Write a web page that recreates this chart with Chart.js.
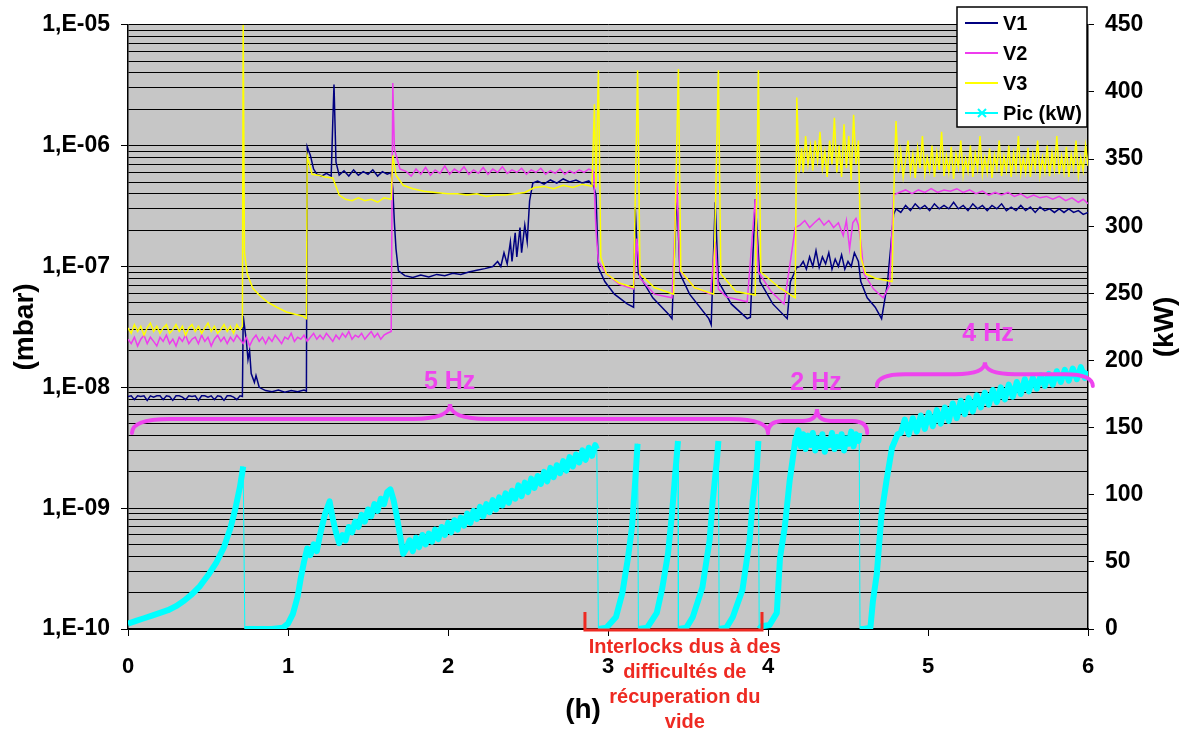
<!DOCTYPE html>
<html><head><meta charset="utf-8">
<script src="https://cdn.jsdelivr.net/npm/chart.js@4.4.1/dist/chart.umd.min.js"></script>
<style>html,body{margin:0;padding:0;background:#fff}canvas{display:block}</style>
</head><body>
<canvas id="c" width="1188" height="733"></canvas>
<script>
// ---- axis ticks / labels ----
const pressureDecades = [1e-10, 1e-9, 1e-8, 1e-7, 1e-6, 1e-5];
const pressureTickLabels = ['1,E-10', '1,E-09', '1,E-08', '1,E-07', '1,E-06', '1,E-05'];
const powerTickLabels = ['0', '50', '100', '150', '200', '250', '300', '350', '400', '450'];
const hourTickLabels = ['0', '1', '2', '3', '4', '5', '6'];
const seriesNames = ['V1', 'V2', 'V3', 'Pic (kW)'];
const frequencyLabels = ['5 Hz', '2 Hz', '4 Hz'];
const noteLines = ['Interlocks dus à des', 'difficultés de', 'récuperation du', 'vide'];

// ---- series: [time (h), pressure (mbar)] ----
const V1 = [[0,8.4e-9],[0.02,8.5e-9],[0.04,7.9e-9],[0.06,8.5e-9],[0.08,8.4e-9],[0.10,8.5e-9],[0.12,7.8e-9],[0.14,8.5e-9],[0.16,8.3e-9],[0.18,8.5e-9],[0.20,8.5e-9],[0.22,7.9e-9],[0.24,8.5e-9],[0.26,8.4e-9],[0.28,7.8e-9],[0.30,8.5e-9],[0.32,8.5e-9],[0.34,8.3e-9],[0.36,7.9e-9],[0.38,8.5e-9],[0.40,8.4e-9],[0.42,8.5e-9],[0.44,7.8e-9],[0.46,8.5e-9],[0.48,8.5e-9],[0.50,8.3e-9],[0.52,8.5e-9],[0.54,7.9e-9],[0.56,8.5e-9],[0.58,8.4e-9],[0.60,7.8e-9],[0.62,8.5e-9],[0.64,8.5e-9],[0.66,8.3e-9],[0.68,7.9e-9],[0.70,8.5e-9],[0.715,8.4e-9],
[0.72,3.9e-8],[0.74,2.4e-8],[0.75,1.7e-8],[0.76,2.0e-8],[0.77,1.3e-8],[0.79,1.1e-8],[0.80,1.25e-8],[0.82,1.0e-8],[0.86,9.4e-9],[0.90,9.2e-9],[0.94,9.5e-9],[0.98,9.1e-9],[1.02,9.4e-9],[1.06,9.2e-9],[1.10,9.5e-9],[1.115,9.3e-9],
[1.12,9.8e-7],[1.14,8.3e-7],[1.16,6.4e-7],[1.18,5.8e-7],[1.21,5.6e-7],[1.24,5.9e-7],[1.27,5.6e-7],[1.28,1.6e-6],[1.2875,3.2e-6],[1.30,7.3e-7],[1.32,5.7e-7],[1.35,6.2e-7],[1.38,5.6e-7],[1.41,6.3e-7],[1.44,5.7e-7],[1.47,6.1e-7],[1.50,5.8e-7],[1.53,6.3e-7],[1.56,5.6e-7],[1.59,6.1e-7],[1.62,5.8e-7],[1.645,6.0e-7],
[1.655,4.4e-7],[1.665,2.3e-7],[1.675,1.4e-7],[1.69,9.2e-8],[1.73,8.4e-8],[1.78,8.1e-8],[1.83,8.5e-8],[1.88,8.2e-8],[1.93,8.6e-8],[1.98,8.4e-8],[2.03,8.8e-8],[2.08,8.6e-8],[2.13,9.0e-8],[2.18,9.3e-8],[2.23,9.6e-8],[2.28,1.0e-7],[2.31,1.1e-7],[2.33,1.0e-7],[2.35,1.3e-7],[2.37,1.05e-7],[2.39,1.6e-7],[2.40,1.1e-7],[2.42,1.9e-7],[2.43,1.2e-7],[2.45,2.1e-7],[2.46,1.3e-7],[2.48,2.2e-7],[2.495,1.6e-7],[2.51,3.5e-7],[2.53,4.9e-7],[2.56,5.1e-7],[2.60,4.8e-7],[2.64,5.2e-7],[2.68,4.9e-7],[2.72,5.3e-7],[2.76,5.0e-7],[2.80,5.2e-7],[2.84,4.9e-7],[2.88,5.1e-7],[2.91,4.6e-7],[2.925,3.9e-7],
[2.94,9.8e-8],[2.98,7.5e-8],[3.04,5.9e-8],[3.12,4.9e-8],[3.16,4.6e-8],[3.17,3.1e-7],[3.19,8.7e-8],[3.28,5.5e-8],[3.38,4.0e-8],[3.40,3.7e-8],[3.43,4.1e-7],[3.45,8.7e-8],[3.51,5.9e-8],[3.63,3.7e-8],[3.645,3.3e-8],[3.67,3.4e-7],[3.69,7.5e-8],[3.77,4.9e-8],[3.87,3.7e-8],[3.89,3.8e-8],[3.92,3.6e-7],[3.95,7.5e-8],[4.03,4.9e-8],[4.12,3.7e-8],[4.14,7.5e-8],[4.18,9.8e-8],
[4.20,1.0e-7],[4.22,1.1e-7],[4.24,9.5e-8],[4.26,1.2e-7],[4.28,1.0e-7],[4.30,1.35e-7],[4.32,9.8e-8],[4.34,1.2e-7],[4.36,1.05e-7],[4.38,1.3e-7],[4.40,9.5e-8],[4.42,1.15e-7],[4.44,1.0e-7],[4.46,1.25e-7],[4.48,9.5e-8],[4.50,1.1e-7],[4.52,1.0e-7],[4.54,1.3e-7],[4.565,1.1e-7],[4.58,7.5e-8],[4.62,5.5e-8],[4.67,4.6e-8],[4.71,3.7e-8],[4.745,7.0e-8],[4.77,1.6e-7],[4.785,2.7e-7],[4.80,3.0e-7],
[4.83,2.8e-7],[4.86,3.2e-7],[4.89,2.9e-7],[4.92,3.3e-7],[4.95,3.0e-7],[4.98,3.2e-7],[5.01,2.9e-7],[5.04,3.3e-7],[5.07,3.0e-7],[5.10,3.2e-7],[5.13,3.0e-7],[5.16,3.4e-7],[5.19,3.0e-7],[5.22,3.2e-7],[5.25,2.9e-7],[5.28,3.3e-7],[5.31,3.0e-7],[5.34,3.2e-7],[5.37,2.9e-7],[5.40,3.2e-7],[5.43,3.0e-7],[5.46,3.3e-7],[5.49,2.9e-7],[5.52,3.1e-7],[5.55,2.9e-7],[5.58,3.2e-7],[5.61,2.9e-7],[5.64,3.1e-7],[5.67,2.8e-7],[5.70,3.1e-7],[5.73,2.9e-7],[5.76,3.0e-7],[5.79,2.8e-7],[5.82,3.0e-7],[5.85,2.8e-7],[5.88,3.0e-7],[5.91,2.8e-7],[5.94,2.9e-7],[5.97,2.7e-7],[6.00,2.8e-7]];

const V2 = [[0,2.5e-8],[0.02,2.3e-8],[0.04,2.6e-8],[0.06,2.2e-8],[0.08,2.5e-8],[0.10,2.7e-8],[0.12,2.3e-8],[0.14,2.6e-8],[0.16,2.4e-8],[0.18,2.2e-8],[0.20,2.6e-8],[0.22,2.4e-8],[0.24,2.7e-8],[0.26,2.3e-8],[0.28,2.5e-8],[0.30,2.2e-8],[0.32,2.6e-8],[0.34,2.4e-8],[0.36,2.7e-8],[0.38,2.3e-8],[0.40,2.5e-8],[0.42,2.6e-8],[0.44,2.3e-8],[0.46,2.7e-8],[0.48,2.4e-8],[0.50,2.6e-8],[0.52,2.2e-8],[0.54,2.5e-8],[0.56,2.7e-8],[0.58,2.4e-8],[0.60,2.6e-8],[0.62,2.3e-8],[0.64,2.6e-8],[0.66,2.4e-8],[0.68,2.7e-8],[0.70,2.5e-8],[0.72,2.3e-8],[0.74,2.6e-8],[0.76,2.2e-8],[0.78,2.5e-8],[0.80,2.7e-8],[0.82,2.4e-8],[0.84,2.6e-8],[0.86,2.3e-8],[0.88,2.6e-8],[0.90,2.4e-8],[0.92,2.7e-8],[0.94,2.5e-8],[0.96,2.3e-8],[0.98,2.6e-8],[1.00,2.5e-8],[1.02,2.8e-8],[1.04,2.4e-8],[1.06,2.6e-8],[1.08,2.5e-8],[1.10,2.7e-8],[1.12,2.4e-8],[1.14,2.6e-8],[1.16,2.8e-8],[1.18,2.5e-8],[1.20,2.7e-8],[1.22,2.5e-8],[1.24,2.8e-8],[1.26,2.6e-8],[1.28,2.4e-8],[1.30,2.7e-8],[1.32,2.5e-8],[1.34,2.8e-8],[1.36,2.6e-8],[1.38,2.9e-8],[1.40,2.5e-8],[1.42,2.7e-8],[1.44,2.6e-8],[1.46,2.8e-8],[1.48,2.5e-8],[1.50,2.7e-8],[1.52,2.9e-8],[1.54,2.6e-8],[1.56,2.8e-8],[1.58,2.5e-8],[1.60,2.7e-8],[1.62,2.8e-8],[1.645,2.9e-8],
[1.655,3.3e-6],[1.665,9.4e-7],[1.70,6.4e-7],[1.74,6.1e-7],[1.77,5.6e-7],[1.80,6.4e-7],[1.83,5.8e-7],[1.86,6.6e-7],[1.89,5.7e-7],[1.92,6.3e-7],[1.95,5.9e-7],[1.98,6.8e-7],[2.01,5.8e-7],[2.04,6.4e-7],[2.07,6.0e-7],[2.10,6.7e-7],[2.13,5.8e-7],[2.16,6.3e-7],[2.19,5.9e-7],[2.22,6.6e-7],[2.25,5.8e-7],[2.28,6.4e-7],[2.31,6.0e-7],[2.34,6.7e-7],[2.37,5.9e-7],[2.40,6.3e-7],[2.43,6.0e-7],[2.46,6.5e-7],[2.49,5.8e-7],[2.52,6.3e-7],[2.55,6.0e-7],[2.58,6.5e-7],[2.61,5.8e-7],[2.64,6.2e-7],[2.67,5.9e-7],[2.70,6.4e-7],[2.73,5.8e-7],[2.76,6.2e-7],[2.79,5.9e-7],[2.82,6.3e-7],[2.85,6.0e-7],[2.88,6.4e-7],[2.91,6.1e-7],
[2.925,2.0e-7],[2.94,1.1e-7],[2.99,8.7e-8],[3.07,7.1e-8],[3.16,6.5e-8],[3.18,1.7e-7],[3.20,8.0e-8],[3.29,5.9e-8],[3.40,5.5e-8],[3.43,5.0e-7],[3.45,9.2e-8],[3.54,6.7e-8],[3.64,5.9e-8],[3.67,1.6e-7],[3.69,6.5e-8],[3.74,5.6e-8],[3.87,5.1e-8],[3.92,3.6e-7],[3.94,9.0e-8],[4.02,6.2e-8],[4.10,4.9e-8],[4.14,1.1e-7],[4.17,2.1e-7],
[4.20,2.2e-7],[4.23,2.4e-7],[4.26,2.1e-7],[4.29,2.3e-7],[4.32,2.5e-7],[4.35,2.2e-7],[4.38,2.4e-7],[4.41,2.1e-7],[4.44,2.3e-7],[4.47,1.8e-7],[4.49,2.4e-7],[4.51,1.4e-7],[4.53,2.3e-7],[4.55,2.5e-7],[4.565,2.2e-7],[4.58,1.6e-7],[4.60,8.7e-8],[4.66,6.5e-8],[4.72,5.5e-8],[4.76,7.0e-8],[4.785,3.9e-7],[4.82,4.1e-7],[4.86,4.3e-7],[4.90,4.0e-7],[4.94,4.3e-7],[4.98,4.1e-7],[5.02,4.4e-7],[5.06,4.1e-7],[5.10,4.3e-7],[5.14,4.2e-7],[5.18,4.4e-7],[5.22,4.1e-7],[5.26,4.3e-7],[5.30,4.0e-7],[5.34,4.2e-7],[5.38,3.9e-7],[5.42,4.1e-7],[5.46,3.9e-7],[5.50,4.1e-7],[5.54,3.8e-7],[5.58,4.0e-7],[5.62,3.7e-7],[5.66,3.9e-7],[5.70,3.7e-7],[5.74,3.8e-7],[5.78,3.6e-7],[5.82,3.8e-7],[5.86,3.5e-7],[5.90,3.7e-7],[5.94,3.4e-7],[5.97,3.6e-7],[6.00,3.3e-7]];

const V3 = [[0,3.1e-8],[0.02,2.8e-8],[0.04,3.3e-8],[0.06,2.9e-8],[0.08,3.2e-8],[0.10,2.7e-8],[0.12,3.1e-8],[0.14,3.4e-8],[0.16,2.9e-8],[0.18,3.2e-8],[0.20,2.8e-8],[0.22,3.1e-8],[0.24,3.3e-8],[0.26,2.8e-8],[0.28,3.0e-8],[0.30,3.3e-8],[0.32,2.9e-8],[0.34,3.2e-8],[0.36,2.7e-8],[0.38,3.1e-8],[0.40,3.3e-8],[0.42,2.9e-8],[0.44,3.2e-8],[0.46,2.8e-8],[0.48,3.1e-8],[0.50,3.4e-8],[0.52,2.9e-8],[0.54,3.2e-8],[0.56,2.8e-8],[0.58,3.0e-8],[0.60,3.3e-8],[0.62,2.9e-8],[0.64,3.2e-8],[0.66,2.8e-8],[0.68,3.3e-8],[0.70,3.0e-8],[0.715,3.2e-8],
[0.72,1.0e-5],[0.728,1.3e-7],[0.745,8.7e-8],[0.78,6.6e-8],[0.82,5.8e-8],[0.87,5.1e-8],[0.93,4.6e-8],[0.99,4.2e-8],[1.05,4.0e-8],[1.09,3.9e-8],[1.115,3.7e-8],
[1.12,8.3e-7],[1.15,5.8e-7],[1.19,5.7e-7],[1.23,5.5e-7],[1.28,5.4e-7],[1.32,3.9e-7],[1.36,3.6e-7],[1.40,3.5e-7],[1.44,3.7e-7],[1.48,3.5e-7],[1.52,3.6e-7],[1.56,3.4e-7],[1.60,3.7e-7],[1.645,3.6e-7],
[1.655,8.3e-7],[1.675,5.7e-7],[1.72,4.7e-7],[1.78,4.4e-7],[1.85,4.2e-7],[1.92,4.1e-7],[2.00,4.0e-7],[2.06,4.0e-7],[2.12,3.9e-7],[2.18,4.0e-7],[2.24,3.8e-7],[2.30,3.9e-7],[2.36,3.9e-7],[2.42,4.0e-7],[2.48,4.1e-7],[2.54,4.5e-7],[2.60,4.6e-7],[2.66,4.4e-7],[2.72,4.7e-7],[2.78,4.5e-7],[2.84,4.8e-7],[2.90,4.6e-7],
[2.915,2.2e-6],[2.925,4.5e-7],[2.94,4.2e-6],[2.955,1.2e-7],[2.99,8.7e-8],[3.07,7.3e-8],[3.16,6.7e-8],[3.185,4.2e-6],[3.20,8.7e-8],[3.29,6.7e-8],[3.41,5.9e-8],[3.44,4.3e-6],[3.455,9.2e-8],[3.54,6.7e-8],[3.66,5.9e-8],[3.69,4.2e-6],[3.705,8.7e-8],[3.80,6.2e-8],[3.92,5.8e-8],[3.94,4.2e-6],[3.955,9.0e-8],[4.07,6.7e-8],[4.17,5.5e-8],
[4.18,2.5e-6],[4.195,6.0e-7],[4.21,9.5e-7],[4.22,6.0e-7],[4.235,1.2e-6],[4.25,7.0e-7],[4.265,1.0e-6],[4.28,6.2e-7],[4.295,1.1e-6],[4.31,7.5e-7],[4.325,1.3e-6],[4.34,6.5e-7],[4.355,9.0e-7],[4.37,5.5e-7],[4.385,1.1e-6],[4.40,7.0e-7],[4.415,1.7e-6],[4.43,6.0e-7],[4.445,1.0e-6],[4.46,5.5e-7],[4.475,1.5e-6],[4.49,6.5e-7],[4.505,1.2e-6],[4.52,5.2e-7],[4.535,1.8e-6],[4.55,7.0e-7],[4.565,1.1e-6],
[4.58,1.2e-7],[4.61,8.7e-8],[4.67,8.0e-8],[4.775,7.5e-8],[4.79,6.4e-7],[4.80,1.6e-6],[4.815,6.0e-7],[4.83,9.0e-7],[4.845,5.5e-7],[4.86,7.5e-7],[4.875,1.1e-6],[4.89,6.0e-7],[4.905,8.5e-7],[4.92,5.4e-7],[4.935,9.5e-7],[4.95,6.5e-7],[4.965,1.2e-6],[4.98,5.8e-7],[4.995,8.0e-7],[5.01,6.2e-7],[5.025,1.0e-6],[5.04,5.5e-7],[5.055,8.8e-7],[5.07,6.3e-7],[5.085,1.3e-6],[5.10,5.6e-7],[5.115,8.2e-7],[5.13,6.0e-7],[5.145,9.8e-7],[5.16,5.3e-7],[5.175,8.5e-7],[5.19,6.6e-7],[5.205,1.1e-6],[5.22,5.7e-7],[5.235,7.8e-7],[5.25,6.1e-7],[5.265,1.0e-6],[5.28,5.5e-7],[5.295,8.6e-7],[5.31,6.4e-7],[5.325,1.2e-6],[5.34,5.8e-7],[5.355,8.0e-7],[5.37,6.0e-7],[5.385,9.5e-7],[5.40,5.4e-7],[5.415,8.4e-7],[5.43,6.5e-7],[5.445,1.1e-6],[5.46,5.6e-7],[5.475,8.2e-7],[5.49,6.2e-7],[5.505,1.0e-6],[5.52,5.5e-7],[5.535,8.7e-7],[5.55,6.3e-7],[5.565,1.2e-6],[5.58,5.9e-7],[5.595,7.9e-7],[5.61,6.0e-7],[5.625,9.6e-7],[5.64,5.5e-7],[5.655,8.5e-7],[5.67,6.4e-7],[5.685,1.1e-6],[5.70,5.7e-7],[5.715,8.0e-7],[5.73,6.1e-7],[5.745,1.0e-6],[5.76,5.6e-7],[5.775,8.8e-7],[5.79,6.3e-7],[5.805,1.2e-6],[5.82,5.8e-7],[5.835,8.2e-7],[5.85,6.0e-7],[5.865,9.8e-7],[5.88,5.5e-7],[5.895,8.5e-7],[5.91,6.5e-7],[5.925,1.1e-6],[5.94,5.7e-7],[5.955,8.0e-7],[5.97,6.2e-7],[5.985,1.0e-6],[6.00,6.8e-7]];

// ---- series: [time (h), power (kW)] ----
const PIC = [[0,4],[0.05,6],[0.10,8],[0.15,10],[0.20,12],[0.25,14],[0.30,17],[0.35,21],[0.40,26],[0.45,32],[0.50,40],[0.55,49],[0.60,61],[0.64,75],[0.67,89],[0.70,106],[0.72,121],
[0.73,0],[0.80,0],[0.90,0],[0.97,1],[1.00,4],[1.03,11],[1.06,24],[1.08,38],[1.10,50],[1.12,60],[1.14,55],[1.16,63],[1.18,58],[1.20,70],[1.23,85],[1.26,95],[1.28,82],[1.30,72],[1.32,64],[1.34,70],[1.36,66],[1.38,76],[1.40,72],[1.42,80],[1.44,76],[1.46,85],[1.48,80],[1.50,89],[1.52,84],[1.54,93],[1.56,88],[1.58,97],[1.60,93],[1.62,102],[1.64,104],[1.66,96],[1.68,84],[1.70,70],[1.72,56],
[1.74,60],[1.76,66],[1.78,58],[1.80,68],[1.82,61],[1.84,70],[1.86,63],[1.88,71],[1.90,65],[1.92,74],[1.94,67],[1.96,76],[1.98,70],[2.00,79],[2.02,72],[2.04,81],[2.06,74],[2.08,83],[2.10,77],[2.12,86],[2.14,79],[2.16,88],[2.18,82],[2.20,91],[2.22,84],[2.24,93],[2.26,87],[2.28,96],[2.30,89],[2.32,98],[2.34,92],[2.36,101],[2.38,94],[2.40,103],[2.42,97],[2.44,107],[2.46,99],[2.48,109],[2.50,102],[2.52,112],[2.54,105],[2.56,114],[2.58,108],[2.60,117],[2.62,110],[2.64,120],[2.66,113],[2.68,122],[2.70,116],[2.72,125],[2.74,118],[2.76,128],[2.78,121],[2.80,130],[2.82,124],[2.84,133],[2.86,126],[2.88,135],[2.90,129],[2.92,137],[2.93,134],
[2.94,0],[2.99,1],[3.05,9],[3.09,27],[3.125,53],[3.15,76],[3.17,110],[3.185,138],
[3.19,0],[3.245,1],[3.305,12],[3.34,31],[3.375,56],[3.40,86],[3.42,115],[3.4375,140],
[3.44,0],[3.49,1],[3.53,9],[3.59,31],[3.635,66],[3.655,96],[3.68,125],[3.69,140],
[3.695,0],[3.74,1],[3.78,9],[3.84,29],[3.885,66],[3.905,96],[3.93,120],[3.94,140],
[3.945,0],[3.96,2],[4.01,3],[4.055,12],[4.075,53],[4.105,76],[4.135,110],[4.17,140],[4.19,148],[4.205,136],[4.22,145],[4.235,134],[4.25,144],[4.265,137],[4.28,146],[4.295,133],[4.31,142],[4.325,136],[4.34,145],[4.355,132],[4.37,141],[4.385,137],[4.40,146],[4.415,134],[4.43,143],[4.445,136],[4.46,145],[4.475,133],[4.49,142],[4.505,138],[4.52,147],[4.535,136],[4.55,145],[4.565,140],[4.57,146],
[4.575,0],[4.60,0],[4.64,1],[4.656,21],[4.68,41],[4.71,86],[4.74,110],[4.775,135],[4.81,145],[4.83,146],[4.855,156],[4.88,145],[4.905,157],[4.93,147],[4.955,159],[4.98,149],[5.005,161],[5.03,151],[5.055,163],[5.08,153],[5.105,165],[5.13,155],[5.155,168],[5.18,157],[5.205,170],[5.23,160],[5.255,172],[5.28,162],[5.305,174],[5.33,165],[5.355,176],[5.38,167],[5.405,178],[5.43,169],[5.455,180],[5.48,171],[5.505,182],[5.53,173],[5.555,184],[5.58,175],[5.605,186],[5.63,177],[5.655,187],[5.68,179],[5.705,189],[5.73,181],[5.755,190],[5.78,182],[5.805,192],[5.83,184],[5.855,193],[5.88,185],[5.905,194],[5.93,186],[5.955,195],[5.98,187],[6.00,192]];

// ---- annotation placement (hours / kW) ----
const braces = [
  {x1: 0.025, x2: 4.0, xm: 2.0125, yEnd: 146, yBase: 156.4, yTip: 167.5, r: 38, r2: 37},
  {x1: 4.0, x2: 4.62, xm: 4.306, yEnd: 146, yBase: 155, yTip: 163.8, r: 15, r2: 14},
  {x1: 4.68, x2: 6.03, xm: 5.356, yEnd: 180.9, yBase: 189.8, yTip: 198.7, r: 28, r2: 30}
];
const braceLabelPos = [[2.01, 183.8], [4.30, 183], [5.375, 219.4]];
const interlockSpan = [2.856, 3.9625];

const COLORS = {v1: '#000080', v2: '#ee3cee', v3: '#ffff00', pic: '#00ffff', plot: '#c6c6c6', brace: '#ee44ee', note: '#ee2a22'};
const FONT = '"Liberation Sans", Arial, Helvetica, sans-serif';
Chart.defaults.font.family = FONT;
Chart.defaults.color = '#000';

const toXY = arr => arr.map(p => ({x: p[0], y: p[1]}));
const isDecade = v => Math.abs(Math.log10(v) - Math.round(Math.log10(v))) < 1e-6;
const pressureGrid = [];
for (let i = 0; i < pressureDecades.length - 1; i++) {
  for (let m = 1; m <= 9; m++) pressureGrid.push(pressureDecades[i] * m);
}
pressureGrid.push(pressureDecades[pressureDecades.length - 1]);

const bgPlugin = {
  id: 'bg',
  beforeDraw(chart) {
    const {ctx, chartArea: a} = chart;
    ctx.save();
    ctx.fillStyle = COLORS.plot;
    ctx.fillRect(a.left, a.top, a.right - a.left, a.bottom - a.top);
    ctx.restore();
  }
};

function drawBrace(ctx, x1, x2, xm, yEnd, yBase, yTip, r, r2) {
  ctx.beginPath();
  ctx.moveTo(x1, yEnd);
  ctx.quadraticCurveTo(x1, yBase, x1 + r, yBase);
  ctx.lineTo(xm - r2, yBase);
  ctx.quadraticCurveTo(xm, yBase, xm, yTip);
  ctx.quadraticCurveTo(xm, yBase, xm + r2, yBase);
  ctx.lineTo(x2 - r, yBase);
  ctx.quadraticCurveTo(x2, yBase, x2, yEnd);
  ctx.stroke();
}

const annotPlugin = {
  id: 'annot',
  afterDraw(chart) {
    const {ctx, chartArea: a} = chart;
    const sx = chart.scales.x, sy = chart.scales.y2;
    ctx.save();
    // braces
    ctx.strokeStyle = COLORS.brace;
    ctx.lineWidth = 4;
    ctx.lineCap = 'round';
    braces.forEach(b => drawBrace(ctx, sx.getPixelForValue(b.x1), sx.getPixelForValue(b.x2), sx.getPixelForValue(b.xm),
      sy.getPixelForValue(b.yEnd), sy.getPixelForValue(b.yBase), sy.getPixelForValue(b.yTip), b.r, b.r2));
    ctx.fillStyle = COLORS.brace;
    ctx.font = 'bold 25px ' + FONT;
    ctx.textAlign = 'center';
    ctx.textBaseline = 'middle';
    frequencyLabels.forEach((t, i) => ctx.fillText(t, sx.getPixelForValue(braceLabelPos[i][0]), sy.getPixelForValue(braceLabelPos[i][1])));
    // red interlock bracket
    const bx1 = sx.getPixelForValue(interlockSpan[0]), bx2 = sx.getPixelForValue(interlockSpan[1]);
    ctx.strokeStyle = COLORS.note;
    ctx.lineWidth = 3;
    ctx.lineCap = 'butt';
    ctx.beginPath();
    ctx.moveTo(bx1, a.bottom - 17);
    ctx.lineTo(bx1, a.bottom + 1);
    ctx.lineTo(bx2, a.bottom + 1);
    ctx.lineTo(bx2, a.bottom - 17);
    ctx.stroke();
    ctx.fillStyle = COLORS.note;
    ctx.font = 'bold 20px ' + FONT;
    const nx = sx.getPixelForValue(3.48);
    noteLines.forEach((t, i) => ctx.fillText(t, nx, a.bottom + 18 + i * 25));
    // axis titles
    ctx.fillStyle = '#000';
    ctx.font = 'bold 28px ' + FONT;
    ctx.fillText('(h)', sx.getPixelForValue(2.844), a.bottom + 81);
    ctx.save();
    ctx.translate(1165, (a.top + a.bottom) / 2);
    ctx.rotate(-Math.PI / 2);
    ctx.fillText('(kW)', 0, 0);
    ctx.restore();
    // legend
    const lx = 957, ly = 7, lw = 130, lh = 120;
    ctx.fillStyle = '#fff';
    ctx.fillRect(lx, ly, lw, lh);
    ctx.strokeStyle = '#000';
    ctx.lineWidth = 1.5;
    ctx.strokeRect(lx, ly, lw, lh);
    const cols = [COLORS.v1, COLORS.v2, COLORS.v3, COLORS.pic];
    ctx.font = 'bold 20px ' + FONT;
    ctx.textAlign = 'left';
    seriesNames.forEach((name, i) => {
      const y = ly + 16 + i * 30;
      ctx.strokeStyle = cols[i];
      ctx.lineWidth = 2;
      ctx.beginPath();
      ctx.moveTo(lx + 8, y);
      ctx.lineTo(lx + 41, y);
      ctx.stroke();
      if (i === 3) {
        ctx.beginPath();
        ctx.moveTo(lx + 21, y - 4); ctx.lineTo(lx + 29, y + 4);
        ctx.moveTo(lx + 21, y + 4); ctx.lineTo(lx + 29, y - 4);
        ctx.stroke();
      }
      ctx.fillStyle = '#000';
      ctx.fillText(name, lx + 46, y + 1);
    });
    ctx.restore();
  }
};

new Chart(document.getElementById('c'), {
  type: 'line',
  data: {
    datasets: [
      {label: seriesNames[0], data: toXY(V1), yAxisID: 'y', borderColor: COLORS.v1, borderWidth: 1.5, pointRadius: 0, order: 3},
      {label: seriesNames[1], data: toXY(V2), yAxisID: 'y', borderColor: COLORS.v2, borderWidth: 1.5, pointRadius: 0, order: 2},
      {label: seriesNames[2], data: toXY(V3), yAxisID: 'y', borderColor: COLORS.v3, borderWidth: 1.5, pointRadius: 0, order: 1},
      {label: seriesNames[3], data: toXY(PIC), yAxisID: 'y2', borderColor: COLORS.pic, borderWidth: 6, pointRadius: 0, order: 0,
        borderJoinStyle: 'round',
        segment: {borderWidth: c => (c.p1.parsed.x - c.p0.parsed.x < 0.012 && c.p0.parsed.y - c.p1.parsed.y > 50) ? 1 : 6}}
    ]
  },
  options: {
    responsive: false,
    animation: false,
    events: [],
    layout: {padding: {top: 22, left: 0, right: 0, bottom: 0}},
    plugins: {legend: {display: false}, tooltip: {enabled: false}},
    scales: {
      x: {
        type: 'linear', min: 0, max: 6,
        afterFit: s => { s.height = 104; },
        afterBuildTicks: s => { s.ticks = hourTickLabels.map(v => ({value: Number(v)})); },
        ticks: {autoSkip: false, maxRotation: 0, padding: 18, font: {size: 22, weight: 'bold'}, callback: v => String(v)},
        grid: {drawOnChartArea: false, color: '#000', tickColor: '#000', tickLength: 7},
        border: {color: '#000', width: 1.5}
      },
      y: {
        type: 'logarithmic', position: 'left', min: 1e-10, max: 1e-5,
        afterFit: s => { s.width = 128; },
        afterBuildTicks: s => { s.ticks = pressureGrid.map(v => ({value: v, major: isDecade(v)})); },
        ticks: {autoSkip: false, padding: 11, font: {size: 23, weight: 'bold'},
          callback: v => { const i = pressureDecades.findIndex(d => Math.abs(Math.log10(d) - Math.log10(v)) < 1e-6); return i >= 0 ? pressureTickLabels[i] : ''; }},
        grid: {color: '#000', lineWidth: 1, tickLength: 7, tickColor: c => (c.tick && isDecade(c.tick.value)) ? '#000' : 'rgba(0,0,0,0)'},
        border: {color: '#000', width: 1.5},
        title: {display: true, text: '(mbar)', font: {size: 28, weight: 'bold'}, padding: {top: 8, bottom: 0}}
      },
      y2: {
        type: 'linear', position: 'right', min: 0, max: 450,
        afterFit: s => { s.width = 100; },
        afterBuildTicks: s => { s.ticks = powerTickLabels.map(v => ({value: Number(v)})); },
        ticks: {autoSkip: false, padding: 11, font: {size: 23, weight: 'bold'}, callback: v => String(v)},
        grid: {drawOnChartArea: false, tickColor: '#000', tickLength: 6},
        border: {color: '#000', width: 1.5}
      }
    }
  },
  plugins: [bgPlugin, annotPlugin]
});
</script>
</body></html>
